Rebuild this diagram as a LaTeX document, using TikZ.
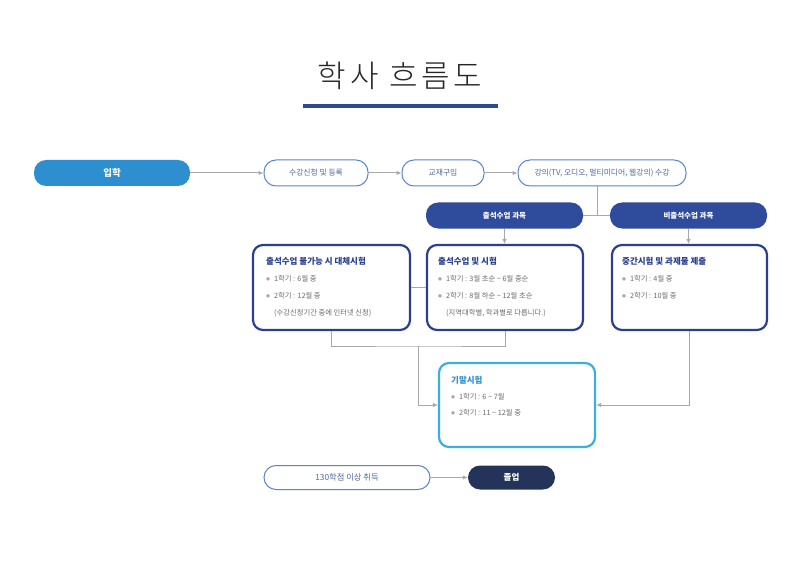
\documentclass[tikz,border=0pt]{standalone}
\usepackage{fontspec}
\setmainfont{Noto Sans CJK KR}
\newfontfamily\titlefont{Noto Sans CJK KR Light}
\newfontfamily\symfont{DejaVu Sans}
\usetikzlibrary{arrows.meta}
\definecolor{titleblue}{HTML}{2E4A8C}
\definecolor{entblue}{HTML}{2E8FD0}
\definecolor{pillblue}{HTML}{5A86C6}
\definecolor{pilltext}{HTML}{4F6A9C}
\definecolor{navy}{HTML}{2F4B9C}
\definecolor{boxblue}{HTML}{2C3F8F}
\definecolor{finblue}{HTML}{3BAFE0}
\definecolor{fintitle}{HTML}{2B92CE}
\definecolor{gradnavy}{HTML}{24335A}
\definecolor{linegray}{HTML}{A8A8A8}
\definecolor{bodygray}{HTML}{6A6A6A}
\newcommand{\bul}{\raisebox{1.3pt}{\color{linegray}\symfont\fontsize{4.5}{5}\selectfont ●}\hspace{4pt}}
\tikzset{
  pill/.style={rounded corners=12pt, minimum height=26pt, inner sep=0pt},
  outpill/.style={pill, draw=pillblue, line width=1pt, fill=white, text=pilltext, font=\fontsize{7.8}{8}\selectfont},
  darkpill/.style={pill, fill=navy, text=white, font=\bfseries\fontsize{7.5}{8}\selectfont},
  stepbox/.style={draw=boxblue, line width=2.2pt, rounded corners=10pt, fill=white, minimum height=85pt, inner sep=0pt},
  boxtext/.style={anchor=north west, inner sep=0pt, align=left, text=bodygray, font=\fontsize{7.3}{17}\selectfont},
  conn/.style={draw=linegray, line width=1pt},
  arr/.style={conn, -{Latex[length=5pt,width=4.5pt]}},
}
\newcommand{\btitle}[1]{{\color{boxblue}\bfseries\fontsize{8.5}{17}\selectfont #1}}
\begin{document}
\begin{tikzpicture}[x=1pt,y=-1pt]
\useasboundingbox[fill=white] (0,0) rectangle (800,572);
% title
\node[font=\titlefont\fontsize{31}{34}\selectfont\addfontfeature{LetterSpace=12}, text=black!85] (title) at (400,76) {학사 흐름도};
\draw[titleblue, line width=4pt] (303,106) -- (498,106);
% top row
\node[pill, fill=entblue, text=white, font=\bfseries\fontsize{9.5}{10}\selectfont, minimum width=156pt] (ent) at (112,173) {입학};
\node[outpill, minimum width=104pt] (reg) at (316,173) {수강신청 및 등록};
\node[outpill, minimum width=82pt] (book) at (443,173) {교재구입};
\node[outpill, minimum width=168pt] (lec) at (602,173) {강의(TV, 오디오, 멀티미디어, 웹강의) 수강};
% category pills
\node[darkpill, minimum width=157pt] (att) at (504.5,215.5) {출석수업 과목};
\node[darkpill, minimum width=157pt] (natt) at (688.5,215.5) {비출석수업 과목};
% boxes
\node[stepbox, minimum width=157pt] (b1) at (331.5,287.5) {};
\node[stepbox, minimum width=156pt] (b2) at (505,287.5) {};
\node[stepbox, minimum width=155pt] (b3) at (689.5,287.5) {};
\node[stepbox, draw=finblue, minimum width=156pt, minimum height=84pt] (fin) at (517,405) {};
\node[boxtext] (b1t) at (266,257) {\btitle{출석수업 불가능 시 대체시험}\\ \bul 1학기 : 6월 중\\ \bul 2학기 : 12월 중\\ \hspace*{8pt}(수강신청기간 중에 인터넷 신청)};
\node[boxtext] (b2t) at (438,257) {\btitle{출석수업 및 시험}\\ \bul 1학기 : 3월 초순 \textasciitilde{} 6월 중순\\ \bul 2학기 : 8월 하순 \textasciitilde{} 12월 초순\\ \hspace*{8pt}(지역대학별, 학과별로 다릅니다.)};
\node[boxtext] (b3t) at (622,257) {\btitle{중간시험 및 과제물 제출}\\ \bul 1학기 : 4월 중\\ \bul 2학기 : 10월 중};
\node[boxtext, font=\fontsize{7.3}{16}\selectfont] (fint) at (451,376) {{\color{fintitle}\bfseries\fontsize{8.5}{16}\selectfont 기말시험}\\ \bul 1학기 : 6 \textasciitilde{} 7월\\ \bul 2학기 : 11 \textasciitilde{} 12월 중};
% bottom
\node[outpill, minimum width=166pt, minimum height=24pt, font=\fontsize{8.3}{9}\selectfont] (cred) at (347,477.5) {130학점 이상 취득};
\node[pill, fill=gradnavy, text=white, font=\bfseries\fontsize{8.5}{9}\selectfont, minimum width=87pt, minimum height=24pt] (grad) at (511.5,477.5) {졸업};
% connectors
\draw[arr] (ent) -- (reg);
\draw[arr] (reg) -- (book);
\draw[arr] (book) -- (lec);
\coordinate (j1) at (597,215.5);
\draw[conn] (lec.south -| j1) -- (j1);
\draw[conn] (att.east) -- (natt.west);
\draw[arr] (att.south) -- (att.south |- b2.north);
\draw[arr] (natt.south) -- (natt.south |- b3.north);
\draw[conn] (b1) -- (b2);
\coordinate (j2) at (418,346);
\draw[conn] (b1.south) |- (j2) -| (b2.south);
\draw[arr] (j2) |- (fin.west);
\draw[arr] (b3.south) |- (fin.east);
\draw[arr] (cred) -- (grad);
\end{tikzpicture}
\end{document}
